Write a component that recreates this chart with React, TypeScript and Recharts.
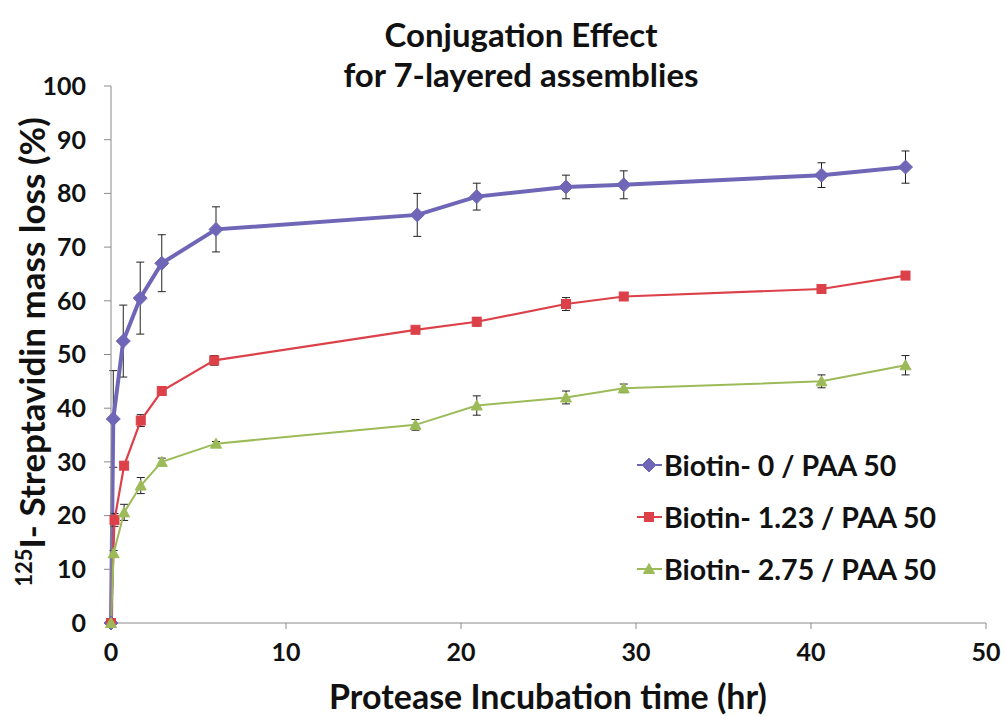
import React from 'react';
import { LineChart, Line, XAxis, YAxis, ErrorBar } from 'recharts';

// x = hours, y = % mass loss, err = +/- error bar
const biotin0 = [
  { x: 0, y: 0, err: 0 },
  { x: 0.13, y: 38, err: 9 },
  { x: 0.7, y: 52.5, err: 6.7 },
  { x: 1.67, y: 60.5, err: 6.7 },
  { x: 2.9, y: 67, err: 5.3 },
  { x: 6.0, y: 73.3, err: 4.2 },
  { x: 17.5, y: 76, err: 4 },
  { x: 20.9, y: 79.4, err: 2.5 },
  { x: 26.0, y: 81.2, err: 2.2 },
  { x: 29.3, y: 81.6, err: 2.6 },
  { x: 40.6, y: 83.4, err: 2.3 },
  { x: 45.4, y: 84.9, err: 3 },
];

const biotin123 = [
  { x: 0, y: 0, err: 0 },
  { x: 0.2, y: 19.2, err: 1.2 },
  { x: 0.75, y: 29.3, err: 0.6 },
  { x: 1.7, y: 37.7, err: 1.1 },
  { x: 2.9, y: 43.2, err: 0.5 },
  { x: 5.9, y: 48.9, err: 0.9 },
  { x: 17.4, y: 54.6, err: 0.5 },
  { x: 20.9, y: 56.1, err: 0.8 },
  { x: 26.0, y: 59.4, err: 1.2 },
  { x: 29.3, y: 60.8, err: 0.5 },
  { x: 40.6, y: 62.2, err: 0.5 },
  { x: 45.4, y: 64.7, err: 0.6 },
];

const biotin275 = [
  { x: 0, y: 0, err: 0 },
  { x: 0.15, y: 13, err: 0.5 },
  { x: 0.75, y: 20.6, err: 1.5 },
  { x: 1.7, y: 25.6, err: 1.5 },
  { x: 2.9, y: 30, err: 0.7 },
  { x: 6.0, y: 33.4, err: 0.4 },
  { x: 17.4, y: 36.9, err: 1 },
  { x: 20.9, y: 40.5, err: 1.8 },
  { x: 26.0, y: 42, err: 1.2 },
  { x: 29.3, y: 43.7, err: 0.8 },
  { x: 40.6, y: 45, err: 1.2 },
  { x: 45.4, y: 48, err: 1.8 },
];

const xTicks = [0, 10, 20, 30, 40, 50];
const yTicks = [0, 10, 20, 30, 40, 50, 60, 70, 80, 90, 100];

const seriesNames = ['Biotin- 0 / PAA 50', 'Biotin- 1.23 / PAA 50', 'Biotin- 2.75 / PAA 50'];
const seriesColors = ['#6f66b8', '#dc4149', '#9cbb58'];

const FONT = 'Lato, "Open Sans", sans-serif';

const Diamond = (p: any) => {
  const { cx, cy, fill, index } = p;
  if (cx == null || cy == null) return <g key={index} />;
  const r = 7;
  return <path key={index} d={`M${cx},${cy - r}L${cx + r},${cy}L${cx},${cy + r}L${cx - r},${cy}Z`} fill={fill} stroke={fill} />;
};

const Square = (p: any) => {
  const { cx, cy, fill, index } = p;
  if (cx == null || cy == null) return <g key={index} />;
  return <rect key={index} x={cx - 4.5} y={cy - 4.5} width={9} height={9} fill={fill} stroke={fill} />;
};

const Triangle = (p: any) => {
  const { cx, cy, fill, index } = p;
  if (cx == null || cy == null) return <g key={index} />;
  return <path key={index} d={`M${cx},${cy - 5.5}L${cx + 5.5},${cy + 4.5}L${cx - 5.5},${cy + 4.5}Z`} fill={fill} stroke={fill} />;
};

const markers = [Diamond, Square, Triangle];

export default function App() {
  const datasets = [biotin0, biotin123, biotin275];
  const widths = [4, 2.2, 2];
  return (
    <div style={{ position: 'absolute', left: 0, top: 0, width: 1005, height: 717, background: '#fff', fontFamily: FONT, overflow: 'hidden' }}>
      <LineChart width={1005} height={717} margin={{ top: 86, right: 19, bottom: 64, left: 50 }}>
        <XAxis
          type="number"
          dataKey="x"
          domain={[0, 50]}
          ticks={xTicks}
          interval={0}
          height={30}
          stroke="#8a8a8a"
          tickSize={6}
          tickMargin={14}
          tick={{ fill: '#111', fontSize: 25, fontWeight: 700, fontFamily: FONT }}
        />
        <YAxis
          type="number"
          dataKey="y"
          domain={[0, 100]}
          ticks={yTicks}
          interval={0}
          width={61}
          stroke="#8a8a8a"
          tickSize={7}
          tickMargin={18}
          tick={{ fill: '#111', fontSize: 25, fontWeight: 700, fontFamily: FONT }}
        />
        {datasets.map((d, i) => {
          const M = markers[i];
          return (
            <Line
              key={i}
              data={d}
              dataKey="y"
              name={seriesNames[i]}
              stroke={seriesColors[i]}
              strokeWidth={widths[i]}
              isAnimationActive={false}
              dot={(p: any) => <M {...p} fill={seriesColors[i]} />}
              activeDot={false}
            >
              <ErrorBar dataKey="err" width={4} stroke="#222" strokeWidth={1} direction="y" />
            </Line>
          );
        })}
      </LineChart>

      <div style={{ position: 'absolute', left: 0, width: 1042, top: 14, textAlign: 'center', fontSize: 33, fontWeight: 700, lineHeight: '40px', color: '#111' }}>
        Conjugation Effect
        <br />
        for 7-layered assemblies
      </div>

      <div style={{ position: 'absolute', left: 148, width: 800, top: 676, textAlign: 'center', fontSize: 34, fontWeight: 700, lineHeight: '40px', color: '#111', whiteSpace: 'nowrap' }}>
        Protease Incubation time (hr)
      </div>

      <div
        style={{
          position: 'absolute',
          left: 31 - 300,
          top: 352 - 22,
          width: 600,
          height: 44,
          lineHeight: '44px',
          textAlign: 'center',
          fontSize: 35,
          fontWeight: 700,
          color: '#111',
          transform: 'rotate(-90deg)',
          whiteSpace: 'nowrap',
        }}
      >
        <sup style={{ fontSize: 22, lineHeight: 0 }}>125</sup>I- Streptavidin mass loss (%)
      </div>

      {seriesNames.map((n, i) => {
        const M = markers[i];
        const y = 465 + i * 52;
        return (
          <div key={n} style={{ position: 'absolute', left: 634, top: y - 20, height: 40, display: 'flex', alignItems: 'center' }}>
            <svg width={30} height={40}>
              <line x1={3} x2={28} y1={20} y2={20} stroke={seriesColors[i]} strokeWidth={2} />
              <M cx={15} cy={20} fill={seriesColors[i]} index={0} />
            </svg>
            <span style={{ fontSize: 28.5, fontWeight: 700, color: '#111', whiteSpace: 'nowrap' }}>{n}</span>
          </div>
        );
      })}
    </div>
  );
}
